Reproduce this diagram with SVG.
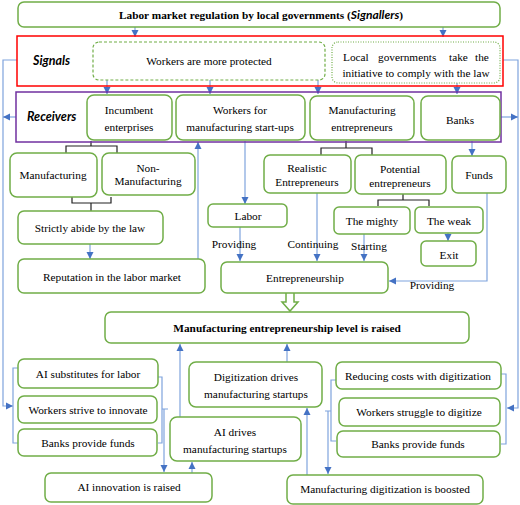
<svg xmlns="http://www.w3.org/2000/svg" width="520" height="505" viewBox="0 0 520 505">
<defs>
<style>
.b{fill:#fff;stroke:#70AD47;stroke-width:1.5}
.t{font-family:"Liberation Serif","Times New Roman",serif;font-size:11.3px;fill:#000;text-anchor:middle}
.bd{font-weight:bold}
.lab{font-family:"Lato","Noto Sans",sans-serif;font-weight:bold;font-style:italic;font-size:12.5px}
.c{fill:none;stroke:#7FA3DD;stroke-width:1.2}
.k{fill:none;stroke:#222;stroke-width:1.2}
</style>
<marker id="a" markerUnits="userSpaceOnUse" markerWidth="8" markerHeight="8" refX="7" refY="4" orient="auto">
<path d="M0,0.5 L7,4 L0,7.5 Z" fill="#4472C4"/>
</marker>
</defs>
<rect width="520" height="505" fill="#fff"/>

<g id="connectors">
<!-- top to signals -->
<path class="c" d="M135,27 V37" marker-end="url(#a)"/>
<path class="c" d="M443,27 V37" marker-end="url(#a)"/>
<!-- signals to receivers -->
<path class="c" d="M107,80 V94" marker-end="url(#a)"/>
<path class="c" d="M210,80 V94" marker-end="url(#a)"/>
<path class="c" d="M318,80 V94" marker-end="url(#a)"/>
<path class="c" d="M457,83 V94" marker-end="url(#a)"/>
<!-- left loop -->
<path class="c" d="M17,60 H3 V406 H13" marker-end="url(#a)"/>
<path class="c" d="M16,117 H3" marker-end="url(#a)"/>
<!-- right loop -->
<path class="c" d="M503,60 H518 V408 H507" marker-end="url(#a)"/>
<path class="c" d="M501,117 H518" marker-end="url(#a)"/>
<!-- black brackets -->
<path class="k" d="M91,141 V146 M66,153 V146 H117 V153"/>
<path class="k" d="M72,197 V203 H111 V197 M91,203 V211"/>
<path class="k" d="M346,141 V148 M321,155 V148 H372 V155"/>
<path class="k" d="M403,194 V200 M378,206 V200 H429 V206"/>
<!-- left middle -->
<path class="c" d="M90,244 V259" marker-end="url(#a)"/>
<path class="c" d="M198,259 V142" marker-end="url(#a)"/>
<path class="c" d="M245,141 V204" marker-end="url(#a)"/>
<path class="c" d="M240,227 V261" marker-end="url(#a)"/>
<path class="c" d="M317,193 V261" marker-end="url(#a)"/>
<path class="c" d="M364,234 V261" marker-end="url(#a)"/>
<path class="c" d="M472,141 V156" marker-end="url(#a)"/>
<path class="c" d="M448,233 V241" marker-end="url(#a)"/>
<path class="c" d="M487,193 V281 H389" marker-end="url(#a)"/>
<!-- hollow arrow -->
<path d="M286,293 V302 H282 L290,311 L298,302 H294 V293" fill="#fff" stroke="#70AD47" stroke-width="1.5"/>
<!-- bottom left brackets -->
<path class="c" d="M18,368 H13 V443 H18"/>
<path class="c" d="M158,377 H162 V443 H158 M162,409 H168"/>
<path class="c" d="M164,409 V472" marker-end="url(#a)"/>
<path class="c" d="M192,473 V462" marker-end="url(#a)"/>
<path class="c" d="M180,417 V344" marker-end="url(#a)"/>
<path class="c" d="M287,362 V344" marker-end="url(#a)"/>
<path class="c" d="M307,475 V408" marker-end="url(#a)"/>
<!-- bottom right brackets -->
<path class="c" d="M336,380 H331 V441 H336 M331,411 H325"/>
<path class="c" d="M328,411 V474" marker-end="url(#a)"/>
<path class="c" d="M501,374 H506 V444 H501"/>
</g>

<g id="title">
<rect class="b" x="18" y="2" width="482" height="25" rx="6"/>
<text class="t bd" x="119" y="19" style="text-anchor:start">Labor market regulation by local governments (<tspan class="lab" style="font-size:12px">Signallers</tspan>)</text>
</g>

<g id="signals">
<rect x="17" y="36" width="486" height="50" fill="none" stroke="#FF0000" stroke-width="1.5"/>
<text class="lab" x="33" y="65">Signals</text>
</g>
<g id="protected">
<rect x="93" y="42" width="232" height="38" rx="6" fill="#fff" stroke="#70AD47" stroke-width="1.2" stroke-dasharray="3,2"/>
<text class="t" x="209" y="65">Workers are more protected</text>
</g>
<g id="comply">
<rect x="332" y="42" width="168" height="41" rx="6" fill="#fff" stroke="#70AD47" stroke-width="1.2" stroke-dasharray="1,1.5"/>
<text class="t" y="61" style="text-anchor:start"><tspan x="343">Local</tspan><tspan x="378">governments</tspan><tspan x="449">take</tspan><tspan x="475">the</tspan></text>
<text class="t" x="416" y="77">initiative to comply with the law</text>
</g>

<g id="receivers">
<rect x="16" y="92" width="485" height="50" fill="none" stroke="#7030A0" stroke-width="1.5"/>
<text class="lab" x="27" y="121">Receivers</text>
</g>
<g id="incumbent">
<rect class="b" x="87" y="95" width="85" height="45" rx="7"/>
<text class="t" x="129" y="114">Incumbent</text>
<text class="t" x="129" y="131">enterprises</text>
</g>
<g id="workers">
<rect class="b" x="176" y="95" width="129" height="45" rx="7"/>
<text class="t" x="240" y="114">Workers for</text>
<text class="t" x="240" y="131">manufacturing start-ups</text>
</g>
<g id="mfgent">
<rect class="b" x="310" y="96" width="104" height="44" rx="7"/>
<text class="t" x="362" y="114">Manufacturing</text>
<text class="t" x="362" y="131">entrepreneurs</text>
</g>
<g id="banks">
<rect class="b" x="421" y="96" width="79" height="44" rx="7"/>
<text class="t" x="460" y="124">Banks</text>
</g>

<g id="manufacturing">
<rect class="b" x="10" y="153" width="87" height="44" rx="7"/>
<text class="t" x="53" y="179">Manufacturing</text>
</g>
<g id="nonmanufacturing">
<rect class="b" x="102" y="153" width="93" height="42" rx="7"/>
<text class="t" x="148" y="172">Non-</text>
<text class="t" x="148" y="185">Manufacturing</text>
</g>
<g id="abide">
<rect class="b" x="18" y="211" width="145" height="33" rx="6"/>
<text class="t" x="90" y="232">Strictly abide by the law</text>
</g>
<g id="reputation">
<rect class="b" x="18" y="259" width="187" height="34" rx="6"/>
<text class="t" x="112" y="281">Reputation in the labor market</text>
</g>

<g id="realistic">
<rect class="b" x="264" y="155" width="87" height="38" rx="6"/>
<text class="t" x="307" y="172">Realistic</text>
<text class="t" x="307" y="186">Entrepreneurs</text>
</g>
<g id="potential">
<rect class="b" x="355" y="155" width="91" height="39" rx="6"/>
<text class="t" x="400" y="173">Potential</text>
<text class="t" x="400" y="187">entrepreneurs</text>
</g>
<g id="funds">
<rect class="b" x="452" y="156" width="54" height="37" rx="6"/>
<text class="t" x="479" y="179">Funds</text>
</g>
<g id="labor">
<rect class="b" x="208" y="204" width="79" height="23" rx="5"/>
<text class="t" x="248" y="220">Labor</text>
</g>
<g id="mighty">
<rect class="b" x="334" y="207" width="76" height="27" rx="5"/>
<text class="t" x="372" y="225">The mighty</text>
</g>
<g id="weak">
<rect class="b" x="415" y="207" width="68" height="26" rx="5"/>
<text class="t" x="449" y="225">The weak</text>
</g>
<g id="exit">
<rect class="b" x="421" y="241" width="55" height="25" rx="5"/>
<text class="t" x="449" y="259">Exit</text>
</g>

<g id="labels">
<text class="t" x="234" y="248">Providing</text>
<text class="t" x="313" y="248">Continuing</text>
<text class="t" x="369" y="250">Starting</text>
<text class="t" x="432" y="289">Providing</text>
</g>

<g id="entrepreneurship">
<rect class="b" x="221" y="262" width="167" height="31" rx="6"/>
<text class="t" x="305" y="282">Entrepreneurship</text>
</g>

<g id="level">
<rect class="b" x="105" y="312" width="364" height="31" rx="6"/>
<text class="t bd" x="287" y="332">Manufacturing entrepreneurship level is raised</text>
</g>

<g id="aisub">
<rect class="b" x="18" y="359" width="140" height="29" rx="6"/>
<text class="t" x="88" y="378">AI substitutes for labor</text>
</g>
<g id="strive">
<rect class="b" x="18" y="396" width="139" height="27" rx="6"/>
<text class="t" x="88" y="414">Workers strive to innovate</text>
</g>
<g id="banksL">
<rect class="b" x="18" y="429" width="139" height="27" rx="6"/>
<text class="t" x="88" y="447">Banks provide funds</text>
</g>
<g id="digdrives">
<rect class="b" x="189" y="362" width="133" height="45" rx="7"/>
<text class="t" x="256" y="381">Digitization drives</text>
<text class="t" x="256" y="398">manufacturing startups</text>
</g>
<g id="aidrives">
<rect class="b" x="170" y="417" width="131" height="44" rx="7"/>
<text class="t" x="235" y="436">AI drives</text>
<text class="t" x="235" y="453">manufacturing startups</text>
</g>
<g id="aiinnov">
<rect class="b" x="45" y="473" width="167" height="29" rx="6"/>
<text class="t" x="129" y="491">AI innovation is raised</text>
</g>

<g id="reducing">
<rect class="b" x="336" y="362" width="165" height="27" rx="6"/>
<text class="t" x="418" y="380">Reducing costs with digitization</text>
</g>
<g id="struggle">
<rect class="b" x="339" y="398" width="161" height="28" rx="6"/>
<text class="t" x="419" y="416">Workers struggle to digitize</text>
</g>
<g id="banksR">
<rect class="b" x="337" y="431" width="163" height="26" rx="6"/>
<text class="t" x="418" y="448">Banks provide funds</text>
</g>
<g id="boosted">
<rect class="b" x="287" y="475" width="196" height="29" rx="6"/>
<text class="t" x="385" y="493">Manufacturing digitization is boosted</text>
</g>
</svg>
